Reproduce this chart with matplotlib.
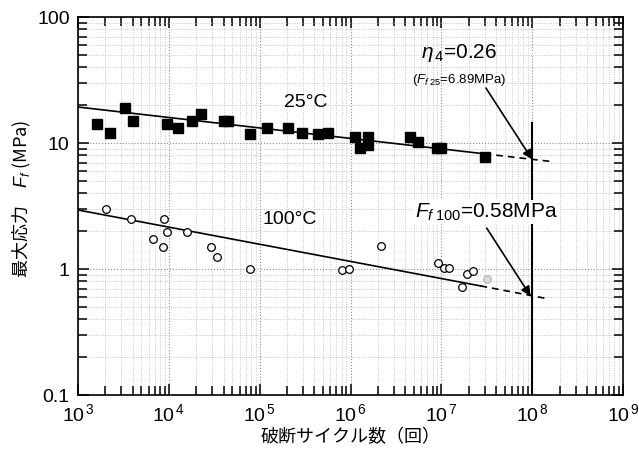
import matplotlib
matplotlib.use('Agg')
import matplotlib.pyplot as plt
from matplotlib.ticker import LogLocator, FixedLocator, NullFormatter

plt.rcParams['font.family'] = ['Liberation Sans Narrow', 'Liberation Sans', 'DejaVu Sans']
plt.rcParams['mathtext.fontset'] = 'custom'
plt.rcParams['mathtext.rm'] = 'Liberation Sans'
plt.rcParams['mathtext.it'] = 'Liberation Sans:italic'
jp = ['Noto Sans CJK JP', 'DejaVu Sans']

# 25 C data (filled squares)
n25 = [1630, 2250, 3320, 4060, 9490, 12500, 18200, 22600, 40800, 44900,
       78300, 120000, 204000, 295000, 443000, 562000, 1.12e6, 1.28e6, 1.57e6, 1.54e6,
       4.53e6, 5.59e6, 9.0e6, 9.95e6, 3.03e7]
f25 = [14.1, 11.9, 18.8, 15.0, 14.2, 13.1, 15.0, 17.0, 15.0, 15.0,
       11.7, 13.2, 13.2, 12.1, 11.7, 12.1, 11.2, 9.08, 11.1, 9.64,
       11.2, 10.2, 9.18, 9.18, 7.78]

# 100 C data (open circles)
n100 = [2020, 3840, 8850, 9620, 15700, 6650, 8570, 28900, 33700, 78300,
        8.02e5, 9.72e5, 2.17e6, 9.29e6, 1.08e7, 1.23e7, 1.68e7, 1.91e7, 2.26e7]
f100 = [2.98, 2.49, 2.49, 1.98, 1.98, 1.72, 1.49, 1.49, 1.25, 0.995,
        0.977, 1.0, 1.51, 1.11, 1.01, 1.01, 0.716, 0.912, 0.964]
n_smudge = [3.16e7]
f_smudge = [0.84]

# fitted lines (solid part, dashed extrapolation)
fit25_n = [1e3, 3.0e7]
fit25_f = [19.3, 8.2]
ext25_n = [3.0e7, 1.6e8]
ext25_f = [8.2, 7.14]
fit100_n = [1e3, 2.7e7]
fit100_f = [2.94, 0.734]
ext100_n = [2.7e7, 1.5e8]
ext100_f = [0.734, 0.58]

n_limit = 1e8
x_ticks = [1e3, 1e4, 1e5, 1e6, 1e7, 1e8, 1e9]
x_labels = ['$10^{\\,3}$', '$10^{\\,4}$', '$10^{\\,5}$', '$10^{\\,6}$',
            '$10^{\\,7}$', '$10^{\\,8}$', '$10^{\\,9}$']
y_ticks = [0.1, 1, 10, 100]
y_labels = ['0.1', '1', '10', '100']

fig = plt.figure(figsize=(6.39, 4.59), dpi=100)
ax = fig.add_axes([78 / 639, 1 - 395 / 459, (623 - 78) / 639, (395 - 17) / 459])
ax.set_xscale('log')
ax.set_yscale('log')
ax.set_xlim(1e3, 1e9)
ax.set_ylim(0.1, 100)

ax.grid(True, which='major', color='0.55', linestyle=':', linewidth=0.8)
ax.grid(True, which='minor', color='0.72', linestyle=':', linewidth=0.6)

ax.plot(fit25_n, fit25_f, color='black', lw=1.2)
ax.plot(ext25_n, ext25_f, color='black', lw=1.2, linestyle=(0, (4, 3)))
ax.plot(fit100_n, fit100_f, color='black', lw=1.2)
ax.plot(ext100_n, ext100_f, color='black', lw=1.2, linestyle=(0, (4, 3)))

ax.plot(n25, f25, linestyle='none', marker='s', markersize=6.5, color='black')
ax.plot(n100, f100, linestyle='none', marker='o', markersize=5.5,
        markerfacecolor='white', markeredgecolor='black', markeredgewidth=0.9)
ax.plot(n_smudge, f_smudge, linestyle='none', marker='o', markersize=5.5,
        markerfacecolor='0.85', markeredgecolor='0.7', markeredgewidth=0.8)

ax.plot([n_limit, n_limit], [0.1, 14.4], color='black', lw=1.5)

ax.text(3.24e5, 21.1, '25°C', fontsize=14, ha='center', va='center',
        family=['Liberation Sans'])
ax.text(2.16e5, 2.45, '100°C', fontsize=14, ha='center', va='center',
        family=['Liberation Sans'])
ax.text(1.57e7, 51.8, r'$\eta_{\,4}$=0.26', fontsize=15, ha='center', va='center',
        family=['Liberation Sans'])
ax.text(1.57e7, 31.6, r'($F_{f\;25}$=6.89MPa)', fontsize=9.5, ha='center', va='center')
ax.text(3.1e7, 2.83, r'$F_{f\;100}$=0.58MPa', fontsize=15, ha='center', va='center',
        family=['Liberation Sans Narrow', 'Liberation Sans'],
        bbox=dict(facecolor='white', edgecolor='none', pad=1))

ax.annotate('', xy=(1.0e8, 7.4), xytext=(3.1e7, 27.3),
            arrowprops=dict(arrowstyle='-|>', color='black', lw=1.2,
                            mutation_scale=14, shrinkA=0, shrinkB=0))
ax.annotate('', xy=(9.6e7, 0.61), xytext=(3.16e7, 2.11),
            arrowprops=dict(arrowstyle='-|>', color='black', lw=1.2,
                            mutation_scale=14, shrinkA=0, shrinkB=0))

ax.xaxis.set_major_locator(FixedLocator(x_ticks))
ax.set_xticklabels(x_labels)
ax.xaxis.set_minor_locator(LogLocator(base=10, subs=range(2, 10), numticks=20))
ax.xaxis.set_minor_formatter(NullFormatter())
ax.yaxis.set_major_locator(FixedLocator(y_ticks))
ax.set_yticklabels(y_labels)
ax.yaxis.set_minor_locator(LogLocator(base=10, subs=range(2, 10), numticks=20))
ax.yaxis.set_minor_formatter(NullFormatter())

ax.tick_params(which='both', direction='in', top=True, right=True, width=1.1)
ax.tick_params(which='major', length=8, labelsize=14, pad=6)
ax.tick_params(which='minor', length=6.5)
for s in ax.spines.values():
    s.set_linewidth(1.2)

ax.set_xlabel('破断サイクル数（回）', fontsize=13, family=jp, labelpad=2)
ax.set_ylabel('最大応力　$F_f$ (MPa)', fontsize=13, family=jp)
ax.yaxis.set_label_coords(-0.083, 0.52)

fig.savefig('out.png', dpi=100)
